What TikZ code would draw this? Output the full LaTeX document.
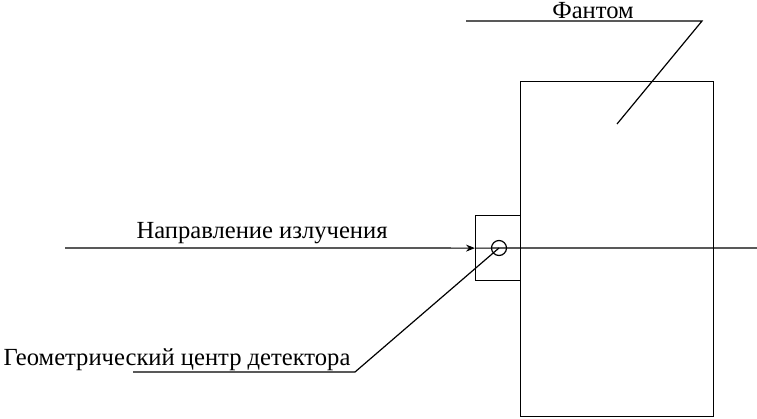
\documentclass[tikz,border=0pt]{standalone}
\usepackage{fontspec}
\setmainfont{Liberation Serif}
\usetikzlibrary{positioning,calc,arrows.meta}

\begin{document}
\begin{tikzpicture}[x=1pt, y=-1pt, line width=1.2pt,
    font=\fontsize{24.6}{28}\selectfont,
    body/.style={draw, rectangle, inner sep=0pt, anchor=north west},
    label/.style={inner sep=0pt}]
    \useasboundingbox (0,0) rectangle (757,418);
    % Phantom and detector
    \node[body, minimum width=193pt, minimum height=335pt] (phantom) at (520,81) {};
    \node[body, minimum width=45pt, minimum height=65pt] (detector) at (475,215) {};
    \node[draw, circle, inner sep=0pt, minimum size=15pt] (centre) at (499,248) {};
    % Beam direction
    \coordinate (beamstart) at (65,248);
    \coordinate (beamend) at (757,248);
    \draw[-{Stealth[length=9pt,width=7pt]}] (beamstart) -- (detector.west);
    \draw (detector.west) -- (beamend);
    \node[label, anchor=base west] (beamlabel) at (136,238) {Направление излучения};
    % Leaders
    \coordinate (phpoint) at (617,124);
    \coordinate (phknee) at (702,21);
    \coordinate (phend) at (466,21);
    \draw (phpoint) -- (phknee) -- (phend);
    \node[label, anchor=base] (phlabel) at (593,18) {Фантом};
    \coordinate (detknee) at (355,372);
    \coordinate (detend) at (133,372);
    \draw (centre.center) -- (detknee) -- (detend);
    \node[label, anchor=base east] (detlabel) at (351,365) {Геометрический центр детектора};
\end{tikzpicture}
\end{document}
